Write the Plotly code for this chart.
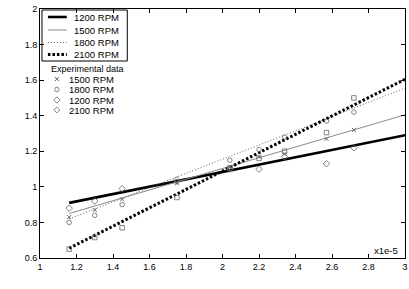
import plotly.graph_objects as go

# ---- data ----
fuel_mass = [1.16, 1.30, 1.45, 1.75, 2.04, 2.20, 2.34, 2.57, 2.72]  # x1e-5 kg/cycle
exp_1200 = [0.88, 0.92, 0.99, 1.04, 1.10, 1.10, 1.17, 1.13, 1.22]
exp_1500 = [0.83, 0.87, 0.93, 1.02, 1.11, 1.17, 1.185, 1.27, 1.32]
exp_1800 = [0.80, 0.84, 0.90, 1.03, 1.15, 1.21, 1.28, 1.37, 1.42]
exp_2100 = [0.65, 0.715, 0.77, 0.94, 1.105, 1.16, 1.20, 1.305, 1.50]

fit_x = [1.16, 3.0]
fit_1200 = [0.91, 1.29]
fit_1500 = [0.85, 1.405]
fit_1800 = [0.82, 1.555]
fit_2100 = [0.655, 1.605]

x_ticks = [1, 1.2, 1.4, 1.6, 1.8, 2, 2.2, 2.4, 2.6, 2.8, 3]
y_ticks = [0.6, 0.8, 1, 1.2, 1.4, 1.6, 1.8, 2]

line_names = ["1200 RPM", "1500 RPM", "1800 RPM", "2100 RPM"]
exp_names = ["1500 RPM", "1800 RPM", "1200 RPM", "2100 RPM"]

FONT = "Liberation Sans, Arial, sans-serif"
GRAY = "#666666"

fig = go.Figure()

line_styles = [
    dict(color="black", width=2.6, dash="solid"),
    dict(color="#8a8a8a", width=1.0, dash="solid"),
    dict(color="#666666", width=1.0, dash="1px,2px"),
    dict(color="black", width=3.0, dash="2.5px,2px"),
]
for yv, st in zip([fit_1200, fit_1500, fit_1800, fit_2100], line_styles):
    fig.add_trace(go.Scatter(x=fit_x, y=yv, mode="lines", line=st,
                             showlegend=False, hoverinfo="skip"))

marker_styles = {
    "1500": dict(symbol="x-thin-open", size=4, color=GRAY, line=dict(color=GRAY, width=1)),
    "1800": dict(symbol="circle-open", size=4.5, color=GRAY, line=dict(color=GRAY, width=0.8)),
    "1200": dict(symbol="diamond-open", size=5, color=GRAY, line=dict(color=GRAY, width=0.8)),
    "2100": dict(symbol="square-open", size=4.5, color=GRAY, line=dict(color=GRAY, width=0.8)),
}
for key, yv in [("1200", exp_1200), ("1500", exp_1500), ("1800", exp_1800), ("2100", exp_2100)]:
    fig.add_trace(go.Scatter(x=fuel_mass, y=yv, mode="markers",
                             marker=marker_styles[key], showlegend=False))

# ---- hand-drawn legends on a pixel-space overlay axis ----
L, R, T, B = 40, 408, 9, 258
leg_rows = [17, 30, 42.5, 54.5]
for row, st in zip(leg_rows, line_styles):
    fig.add_trace(go.Scatter(x=[48, 67], y=[row, row], mode="lines", line=st,
                             xaxis="x2", yaxis="y2", showlegend=False, hoverinfo="skip"))
exp_rows = [79, 89.5, 100, 110]
exp_keys = ["1500", "1800", "1200", "2100"]
for row, k in zip(exp_rows, exp_keys):
    mk = dict(marker_styles[k])
    if k == "2100":
        mk["symbol"] = "diamond-open"
    fig.add_trace(go.Scatter(x=[57], y=[row], mode="markers", marker=mk,
                             xaxis="x2", yaxis="y2", showlegend=False, hoverinfo="skip"))

fig.add_shape(type="rect", xref="x2", yref="y2", x0=42, x1=128, y0=10, y1=61,
              line=dict(color="black", width=1), fillcolor="white", layer="below")

annotations = []
for row, name in zip(leg_rows, line_names):
    annotations.append(dict(x=72, y=row, xref="x2", yref="y2", text=name, showarrow=False,
                            xanchor="left", yanchor="middle", font=dict(size=9.5, color="black")))
annotations.append(dict(x=88, y=69, xref="x2", yref="y2", text="Experimental data",
                        showarrow=False, xanchor="center", yanchor="middle",
                        font=dict(size=9, color="black")))
for row, name in zip(exp_rows, exp_names):
    annotations.append(dict(x=67, y=row, xref="x2", yref="y2", text=name, showarrow=False,
                            xanchor="left", yanchor="middle", font=dict(size=9.5, color="black")))
annotations.append(dict(x=389, y=250, xref="x2", yref="y2", text="x1e-5", showarrow=False,
                        xanchor="center", yanchor="middle", font=dict(size=9.5, color="black")))
annotations.append(dict(x=226, y=277, xref="x2", yref="y2",
                        text="Injected fuel mass(kg/cycle); EGR = 23 % (mass)", showarrow=False,
                        xanchor="center", yanchor="middle", font=dict(size=10, color="black")))
annotations.append(dict(x=22, y=115, xref="x2", yref="y2", text="Mpp", textangle=-90,
                        showarrow=False, xanchor="center", yanchor="middle",
                        font=dict(size=10, color="black")))

axis_common = dict(showgrid=False, zeroline=False, showline=True, linecolor="black",
                   linewidth=1, mirror="ticks", ticks="inside", ticklen=4,
                   tickcolor="black", tickfont=dict(size=9, color="black"))

fig.update_layout(
    width=409, height=289,
    margin=dict(l=L, r=409 - R, t=T, b=289 - B),
    paper_bgcolor="white", plot_bgcolor="white",
    font=dict(family=FONT, color="black"),
    showlegend=False,
    xaxis=dict(range=[1, 3], tickvals=x_ticks, ticktext=[f"{v:g}" for v in x_ticks],
               ticklabeloverflow="allow", **axis_common),
    yaxis=dict(range=[0.6, 2], tickvals=y_ticks, ticktext=[f"{v:g}" for v in y_ticks],
               **axis_common),
    xaxis2=dict(range=[L, R], overlaying="x", visible=False, fixedrange=True),
    yaxis2=dict(range=[B, T], overlaying="y", visible=False, fixedrange=True),
    annotations=annotations,
)

fig.write_html("out.html", config={"displayModeBar": False},
               post_script="document.body.style.margin='0';document.body.style.overflow='hidden';")
